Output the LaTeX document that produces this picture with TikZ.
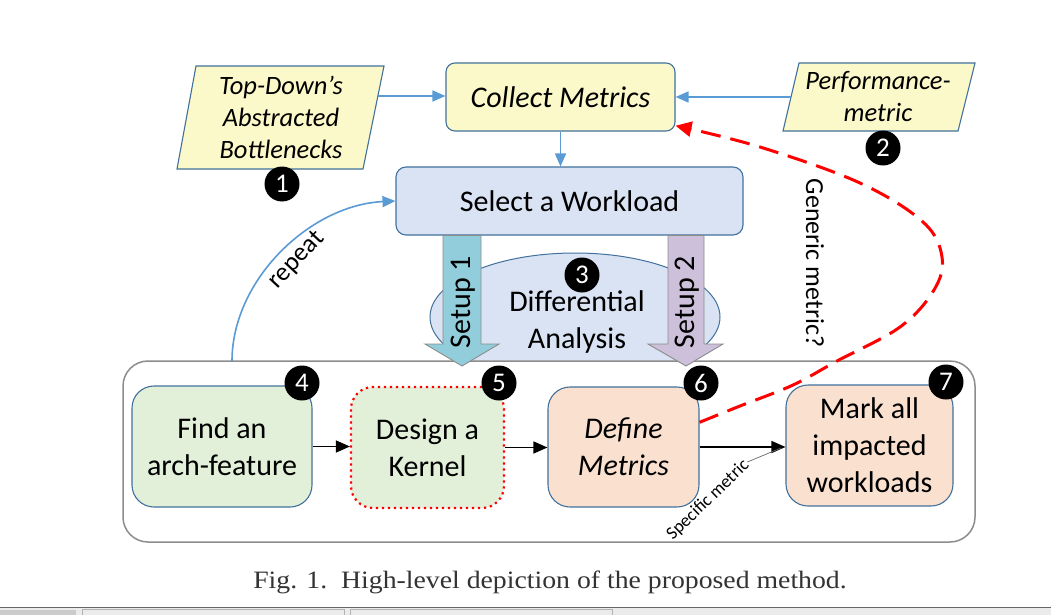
\documentclass[tikz,border=0pt]{standalone}
\usepackage{fontspec}
\setmainfont{Carlito}
\newfontfamily\capfont{Liberation Serif}
\usetikzlibrary{arrows.meta,shapes.geometric}
\definecolor{yel}{HTML}{FBF9C9}
\definecolor{bord}{HTML}{41719C}
\definecolor{selfill}{HTML}{DAE3F3}
\definecolor{arrblue}{HTML}{5B9BD5}
\definecolor{setupA}{HTML}{92CDDC}
\definecolor{setupB}{HTML}{CCC0DA}
\definecolor{grn}{HTML}{E2F0D9}
\definecolor{peach}{HTML}{F9E0CF}
\definecolor{contgray}{HTML}{8C8C8C}
\begin{document}
\begin{tikzpicture}[x=1pt,y=-1pt,
  box/.style={draw=bord, line width=1.1pt, align=center, inner sep=0pt},
  para/.style={draw=bord, line width=1.1pt, fill=yel},
  badge/.style={circle, fill=black, text=white, minimum size=35pt, inner sep=0pt, font=\fontsize{27}{27}\selectfont},
  bluearr/.style={draw=arrblue, line width=1.6pt, -{Triangle[length=13pt,width=11pt]}},
  blkarr/.style={draw=black, line width=1.4pt, -{Triangle[length=14pt,width=12pt]}},
  reddash/.style={draw=red, line width=3pt, dash pattern=on 20pt off 10pt, -{Triangle[length=16pt,width=15pt]}},
  setupar/.style={draw=black!45, line width=0.9pt},
  bigf/.style={font=\fontsize{30}{37}\selectfont},
  bigi/.style={font=\fontsize{30}{37}\selectfont\itshape},
  midi/.style={font=\fontsize{26.5}{32}\selectfont\itshape},
]
\useasboundingbox (0,0) rectangle (1051,615);
\fill[white] (0,0) rectangle (1051,615);

% top inputs
\draw[para] (196,66) -- (384,66) -- (363,169) -- (177,169) -- cycle;
\node[midi, align=center] (td) at (281,117) {Top-Down's\\Abstracted\\Bottlenecks};
\draw[para] (799,63) -- (975,63) -- (958,131) -- (783,131) -- cycle;
\node[midi, align=center] (pm) at (878,97) {Performance-\\metric};

\node[box, fill=yel, rounded corners=9pt, minimum width=229pt, minimum height=68pt, bigi] (cm) at (560.5,97) {Collect Metrics};
\node[box, fill=selfill, rounded corners=10pt, minimum width=347pt, minimum height=68pt, bigf] (sw) at (569.5,201) {Select a Workload};

\coordinate (tdR) at (378,96);
\coordinate (pmL) at (791,97);
\draw[bluearr] (tdR) -- (tdR -| cm.west);
\draw[bluearr] (pmL) -- (pmL -| cm.east);
\draw[bluearr] (cm.south) -- (cm.south |- sw.north);

\node[badge] (b1) at (282,184) {1};
\node[badge] (b2) at (883,148) {2};

% differential analysis
\node[ellipse, draw=bord, line width=1pt, fill=selfill, minimum width=290pt, minimum height=128pt] (da) at (575,317) {};
\node[bigf, align=center] (dat) at (577,322) {Differential\\Analysis};
\node[badge] (b3) at (582,275) {3};

% container
\node[draw=contgray, line width=1.5pt, fill=white, rounded corners=25pt, minimum width=852pt, minimum height=181pt, inner sep=0pt] (cont) at (549,451.5) {};

% setup arrows
\draw[setupar, fill=setupA] (443,235.5) -- (481,235.5) -- (481,344) -- (499,344) -- (462,366) -- (425,344) -- (443,344) -- cycle;
\node[bigf, rotate=90] (s1) at (463,302) {Setup 1};
\draw[setupar, fill=setupB] (668,235.5) -- (704,235.5) -- (704,344) -- (723,344) -- (686,366) -- (648,344) -- (668,344) -- cycle;
\node[bigf, rotate=90] (s2) at (687,302) {Setup 2};

% bottom row
\node[box, fill=grn, rounded corners=22pt, minimum width=180pt, minimum height=121pt, bigf] (fa) at (222,446.5) {Find an\\arch-feature};
\node[draw=red, line width=2.2pt, dash pattern=on 2.2pt off 3.8pt, fill=grn, rounded corners=22pt, minimum width=153pt, minimum height=121pt, inner sep=0pt, align=center, bigf] (dk) at (427.5,447.5) {Design a\\Kernel};
\node[box, fill=peach, rounded corners=22pt, minimum width=151pt, minimum height=120pt, bigi] (dm) at (623.5,447) {Define\\Metrics};
\node[box, fill=peach, rounded corners=22pt, minimum width=167pt, minimum height=121pt, bigf] (mk) at (869.5,445.5) {Mark all\\impacted\\workloads};

\node[badge] (b4) at (302,383) {4};
\node[badge] (b5) at (499,383) {5};
\node[badge] (b6) at (701,383) {6};
\node[badge] (b7) at (946,382) {7};

\draw[blkarr] (fa.east) -- (fa.east -| dk.west);
\draw[blkarr] (dk.east) -- (dk.east -| dm.west);
\draw[blkarr] (dm.east) -- (dm.east -| mk.west);

% specific metric label
\node[font=\fontsize{18}{18}\selectfont, rotate=44, inner sep=1pt] (sm) at (708,500) {Specific metric};
\coordinate (smtip) at (781,448);
\draw[black!60, line width=0.7pt] (sm.east) -- (smtip);

% repeat
\coordinate (rp) at (232,361);
\draw[bluearr] (rp) .. controls (232,280) and (310,205) .. (sw.west);
\node[font=\fontsize{26}{26}\selectfont, rotate=47] (rl) at (297,260) {repeat};

% generic metric
\draw[reddash] plot[smooth, tension=0.6] coordinates {(dm.18) (740,406) (793,385) (837,361) (900,327) (934,290) (942,257) (923,222) (860,183) (760,147) (cm.-14)};
\node[font=\fontsize{26}{26}\selectfont, rotate=-90] (gm) at (815,263) {Generic metric?};

% caption
\node[font=\fontsize{25}{25}\selectfont\capfont, text=black!80] (cap) at (550,582) {\scalebox{1.11}[1]{Fig. 1.\ \ High-level depiction of the proposed method.}};

% screenshot tab strip
\fill[black!8] (0,608) rectangle (1051,615);
\draw[black!60, line width=1pt] (0,607.5) -- (1051,607.5);
\fill[black!20] (0,609.5) rectangle (76,615);
\draw[black!30, line width=0.8pt] (82,615) -- (82,609.5) -- (344,609.5) -- (344,615);
\draw[black!30, line width=0.8pt] (350,615) -- (350,609.5) -- (612,609.5) -- (612,615);
\end{tikzpicture}
\end{document}
